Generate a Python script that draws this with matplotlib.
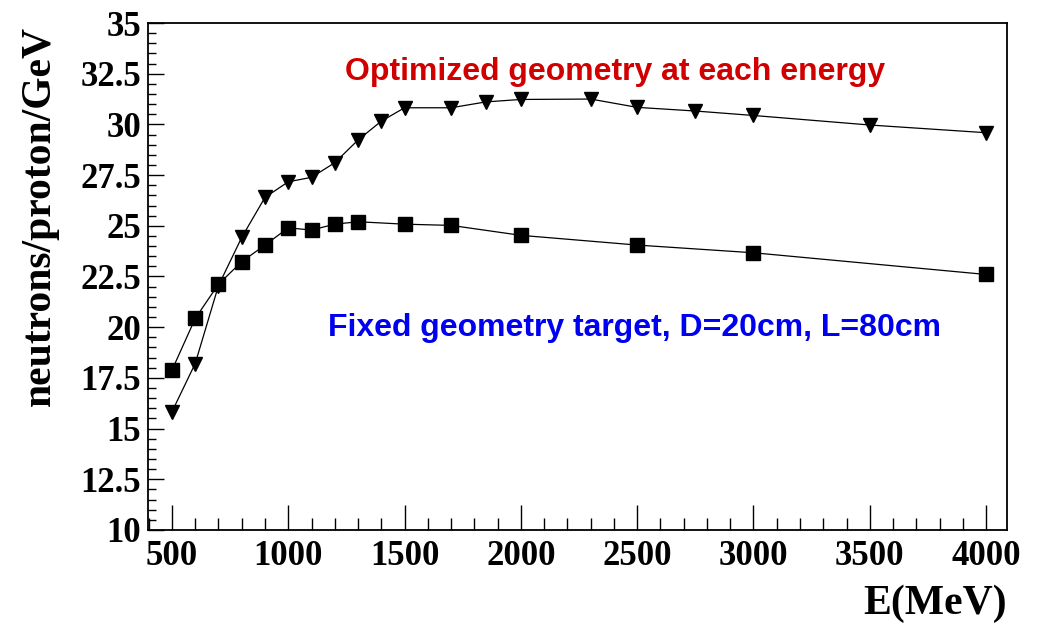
import numpy as np
import matplotlib.pyplot as plt
from matplotlib.ticker import MultipleLocator

# Beam energy (MeV) and neutron yield per proton per GeV
e_opt = [500, 600, 700, 800, 900, 1000, 1100, 1200, 1300, 1400, 1500,
         1700, 1850, 2000, 2300, 2500, 2750, 3000, 3500, 4000]
n_opt = [15.83, 18.21, 22.05, 24.43, 26.40, 27.17, 27.39, 28.11, 29.23, 30.16, 30.82,
         30.82, 31.11, 31.23, 31.25, 30.84, 30.66, 30.44, 29.97, 29.59]

e_fix = [500, 600, 700, 800, 900, 1000, 1100, 1200, 1300, 1500, 1700, 2000, 2500, 3000, 4000]
n_fix = [17.88, 20.43, 22.12, 23.23, 24.05, 24.90, 24.79, 25.08, 25.20, 25.08, 25.02,
         24.53, 24.05, 23.67, 22.60]

serif = ['Liberation Serif', 'DejaVu Serif']
sans = ['Liberation Sans', 'DejaVu Sans']

fig = plt.figure(figsize=(10.41, 6.28), dpi=100)
ax = fig.add_axes([148/1041, 98/628, (1007-148)/1041, (530-23)/628])

ax.plot(e_opt, n_opt, color='black', lw=0.9, marker='v', ms=10.5, mec='black', mfc='black')
ax.plot(e_fix, n_fix, color='black', lw=0.9, marker='s', ms=10, mec='black', mfc='black')

ax.set_xlim(397, 4090)
ax.set_ylim(10, 35)
ax.xaxis.set_major_locator(MultipleLocator(500))
ax.xaxis.set_minor_locator(MultipleLocator(100))
ax.yaxis.set_major_locator(MultipleLocator(2.5))
ax.yaxis.set_minor_locator(MultipleLocator(0.5))
ax.yaxis.set_major_formatter(plt.FuncFormatter(lambda v, _: f"{v:g}"))

ax.tick_params(axis='x', which='major', direction='in', length=18, width=1, pad=7)
ax.tick_params(axis='x', which='minor', direction='in', length=9, width=1)
ax.tick_params(axis='y', which='major', direction='in', length=11.5, width=1, pad=5)
ax.tick_params(axis='y', which='minor', direction='in', length=5.8, width=1)
for lab in ax.get_xticklabels() + ax.get_yticklabels():
    lab.set_family(serif)
    lab.set_fontweight('bold')
    lab.set_fontsize(25)
for sp in ax.spines.values():
    sp.set_linewidth(1.3)

# axis titles, placed ROOT-style at the ends of the axes
fig.text(40/1041, 1 - 26/628, 'neutrons/proton/GeV', rotation=90, ha='center', va='top',
         family=serif, fontweight='bold', fontsize=30)
fig.text(1007/1041, 1 - 604/628, 'E(MeV)', ha='right', va='center',
         family=serif, fontweight='bold', fontsize=30)

fig.text(615/1041, 1 - 72/628, 'Optimized geometry at each energy', ha='center', va='center',
         color='#d00000', family=sans, fontweight='bold', fontsize=23)
fig.text(635/1041, 1 - 328/628, 'Fixed geometry target, D=20cm, L=80cm', ha='center', va='center',
         color='#0000f0', family=sans, fontweight='bold', fontsize=23)

fig.savefig('out.png', dpi=100)
